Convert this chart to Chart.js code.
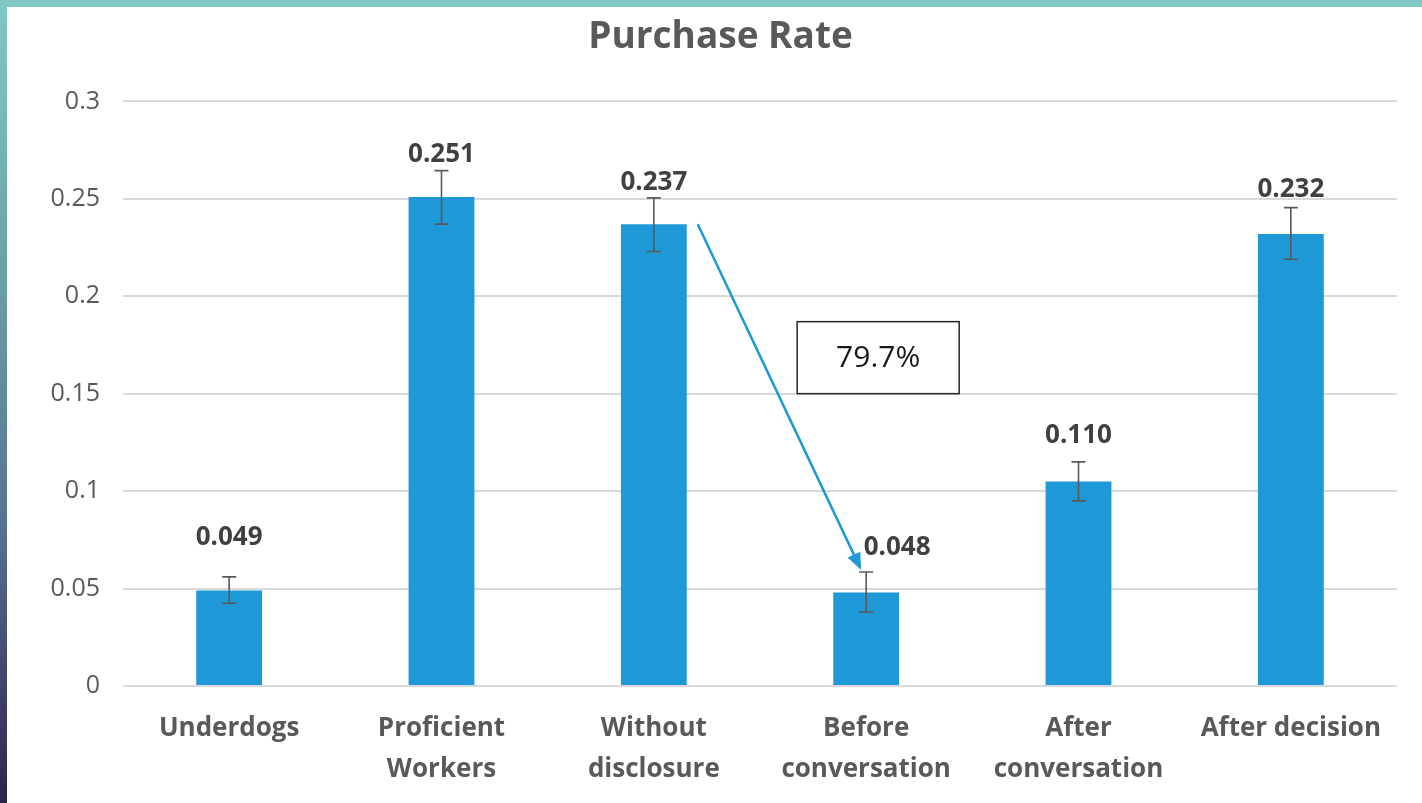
<!DOCTYPE html>
<html>
<head>
<meta charset="utf-8">
<script src="https://cdn.jsdelivr.net/npm/chart.js@4"></script>
<style>
  html, body { margin: 0; padding: 0; background: #fff; }
  #wrap { position: relative; width: 1422px; height: 803px; overflow: hidden; }
  #topbar { position: absolute; left: 0; top: 0; width: 1422px; height: 7px; background: #80c8c3; z-index: 2; }
  #leftbar { position: absolute; left: 0; top: 0; width: 7px; height: 803px; z-index: 2;
    background: linear-gradient(#80c9c4 0%, #6ea6a8 30%, #567491 65%, #3e3c66 88%, #2f2449 100%); }
  canvas { position: absolute; left: 0; top: 0; }
</style>
</head>
<body>
<div id="wrap">
  <div id="topbar"></div>
  <div id="leftbar"></div>
  <canvas id="bar-chart" width="1422" height="803"></canvas>
</div>
<script>
var categories = ['Underdogs', ['Proficient', 'Workers'], ['Without', 'disclosure'], ['Before', 'conversation'], ['After', 'conversation'], 'After decision'];
var rates = [0.049, 0.251, 0.237, 0.048, 0.105, 0.232];
var rateLabels = ['0.049', '0.251', '0.237', '0.048', '0.110', '0.232'];
var errLow = [0.0425, 0.237, 0.223, 0.038, 0.095, 0.219];
var errHigh = [0.056, 0.2645, 0.2505, 0.0585, 0.115, 0.2455];
var yTicks = [0, 0.05, 0.1, 0.15, 0.2, 0.25, 0.3];
var dropText = '79.7%';

// label nudges in pixels (dx, dy above error cap)
var labelNudge = [[0, 39], [0, 16], [0, 15], [31, 24], [0, 26], [0, 18]];

var fontName = "'Open Sans'";
var barColor = '#1e98d7';
var textGray = '#595959';

var extras = {
    id: 'extras',
    afterDatasetsDraw: function(chart) {
        var ctx = chart.ctx;
        var xs = chart.scales.x;
        var ys = chart.scales.y;
        ctx.save();

        // error bars
        ctx.strokeStyle = '#595959';
        ctx.lineWidth = 1.6;
        for (var i = 0; i < rates.length; i++) {
            var x = xs.getPixelForValue(i);
            var yl = ys.getPixelForValue(errLow[i]);
            var yh = ys.getPixelForValue(errHigh[i]);
            ctx.beginPath();
            ctx.moveTo(x, yl); ctx.lineTo(x, yh);
            ctx.moveTo(x - 7, yl); ctx.lineTo(x + 7, yl);
            ctx.moveTo(x - 7, yh); ctx.lineTo(x + 7, yh);
            ctx.stroke();
        }

        // value labels
        ctx.fillStyle = '#404040';
        ctx.font = 'bold 26px ' + fontName;
        ctx.textAlign = 'center';
        ctx.textBaseline = 'middle';
        for (var j = 0; j < rates.length; j++) {
            var lx = xs.getPixelForValue(j) + labelNudge[j][0];
            var ly = ys.getPixelForValue(errHigh[j]) - labelNudge[j][1];
            ctx.fillText(rateLabels[j], lx, ly);
        }

        // arrow from "Without disclosure" to "Before conversation"
        var meta = chart.getDatasetMeta(0);
        var half = meta.data[2].width / 2;
        var sx = xs.getPixelForValue(2) + half + 11;
        var sy = ys.getPixelForValue(rates[2]);
        var ex = xs.getPixelForValue(3) - 5;
        var ey = ys.getPixelForValue(errHigh[3]) - 2;
        var ang = Math.atan2(ey - sy, ex - sx);
        ctx.strokeStyle = '#1e98d7';
        ctx.fillStyle = '#1e98d7';
        ctx.lineWidth = 2.5;
        ctx.beginPath();
        ctx.moveTo(sx, sy);
        ctx.lineTo(ex - 12 * Math.cos(ang), ey - 12 * Math.sin(ang));
        ctx.stroke();
        ctx.beginPath();
        ctx.moveTo(ex, ey);
        ctx.lineTo(ex - 17 * Math.cos(ang) + 7 * Math.sin(ang), ey - 17 * Math.sin(ang) - 7 * Math.cos(ang));
        ctx.lineTo(ex - 17 * Math.cos(ang) - 7 * Math.sin(ang), ey - 17 * Math.sin(ang) + 7 * Math.cos(ang));
        ctx.closePath();
        ctx.fill();

        // drop box
        var bx = xs.getPixelForValue(3) + 12;
        var by = ys.getPixelForValue((rates[2] + rates[3]) / 2 + 0.026);
        ctx.fillStyle = '#fff';
        ctx.fillRect(bx - 81, by - 36, 162, 72);
        ctx.strokeStyle = '#262626';
        ctx.lineWidth = 1.5;
        ctx.strokeRect(bx - 81, by - 36, 162, 72);
        ctx.fillStyle = '#1a1a1a';
        ctx.font = '30px ' + fontName;
        ctx.fillText(dropText, bx, by + 1);

        ctx.restore();
    }
};

new Chart(document.getElementById('bar-chart'), {
    type: 'bar',
    data: {
        labels: categories,
        datasets: [{
            data: rates,
            backgroundColor: barColor,
            categoryPercentage: 1,
            barPercentage: 0.31
        }]
    },
    options: {
        responsive: false,
        animation: false,
        layout: { padding: { left: 44, right: 25, top: 0, bottom: 0 } },
        plugins: {
            legend: { display: false },
            tooltip: { enabled: false },
            title: {
                display: true,
                text: 'Purchase Rate',
                color: textGray,
                font: { family: fontName, size: 37, weight: 'bold', lineHeight: 1.2 },
                padding: { top: 15, bottom: 42 }
            }
        },
        scales: {
            x: {
                grid: { display: false, drawTicks: false },
                border: { display: false },
                ticks: {
                    color: textGray,
                    padding: 22,
                    maxRotation: 0,
                    autoSkip: false,
                    font: { family: fontName, size: 26, weight: 'bold', lineHeight: 1.58 }
                },
                afterFit: function(scale) { scale.height = 117; }
            },
            y: {
                min: 0,
                max: 0.3,
                afterBuildTicks: function(scale) {
                    scale.ticks = yTicks.map(function(v) { return { value: v }; });
                },
                grid: { color: '#d9d9d9', lineWidth: 2, drawTicks: false },
                border: { display: false },
                ticks: {
                    color: textGray,
                    padding: 23,
                    font: { family: fontName, size: 25 },
                    callback: function(v) { return String(+v.toFixed(2)); }
                },
                afterFit: function(scale) { scale.width = 79; }
            }
        }
    },
    plugins: [extras]
});
</script>
</body>
</html>
